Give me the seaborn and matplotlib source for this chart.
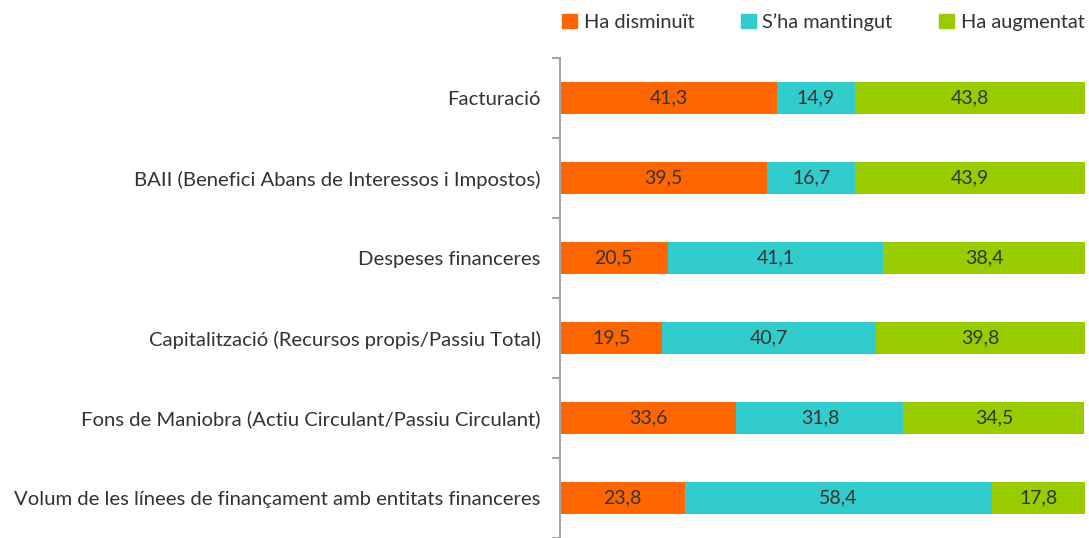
import matplotlib.pyplot as plt
import matplotlib.patches as mpatches
import pandas as pd
import seaborn as sns

categories = [
    "Facturació",
    "BAII (Benefici Abans de Interessos i Impostos)",
    "Despeses financeres",
    "Capitalització (Recursos propis/Passiu Total)",
    "Fons de Maniobra (Actiu Circulant/Passiu Circulant)",
    "Volum de les línees de finançament amb entitats financeres",
]
series_names = ["Ha disminuït", "S\u2019ha mantingut", "Ha augmentat"]
disminuit = [41.3, 39.5, 20.5, 19.5, 33.6, 23.8]
mantingut = [14.9, 16.7, 41.1, 40.7, 31.8, 58.4]
augmentat = [43.8, 43.9, 38.4, 39.8, 34.5, 17.8]
colors = ["#FF6600", "#33CCCC", "#99CC00"]

sns.set_style("white")
plt.rcParams["font.family"] = ["Lato", "DejaVu Sans"]
text_color = "#333333"

df = pd.DataFrame({"cat": categories, "d": disminuit, "m": mantingut, "a": augmentat})
df["c1"] = df["d"]
df["c2"] = df["d"] + df["m"]
df["c3"] = df["c2"] + df["a"]

fig = plt.figure(figsize=(10.89, 5.38), dpi=100)
ax = fig.add_axes([560 / 1089, 0, (1085 - 560) / 1089, 480 / 538])

# draw cumulative totals back to front so the layers stack
for col, color in zip(["c3", "c2", "c1"], colors[::-1]):
    sns.barplot(data=df, x=col, y="cat", orient="h", color=color, width=0.4,
                saturation=1, ax=ax, linewidth=0)

starts = [[0] * len(df), list(df["c1"]), list(df["c2"])]
for vals, left in zip([disminuit, mantingut, augmentat], starts):
    for i, (v, l) in enumerate(zip(vals, left)):
        ax.text(l + v / 2, i, f"{v:.1f}".replace(".", ","), ha="center", va="center",
                fontsize=14, color=text_color)

ax.set_xlim(0, 100)
ax.set_ylim(len(categories) - 0.5, -0.5)
ax.set_xlabel("")
ax.set_ylabel("")
ax.set_xticks([])
ax.set_yticks([i - 0.5 for i in range(len(categories) + 1)], minor=False)
ax.set_yticklabels([])
ax.set_yticks(range(len(categories)), minor=True)
ax.set_yticklabels(categories, minor=True, fontsize=14.6, color=text_color)
ax.tick_params(axis="y", which="minor", length=0, pad=14)
ax.tick_params(axis="y", which="major", length=6, width=1.5, color="#A6A6A6", direction="out", left=True)
for side in ["top", "right", "bottom"]:
    ax.spines[side].set_visible(False)
ax.spines["left"].set_color("#A6A6A6")
ax.spines["left"].set_linewidth(1.5)

handles = [mpatches.Patch(color=c, label=n) for c, n in zip(colors, series_names)]
fig.legend(handles=handles, loc="center left", bbox_to_anchor=(562 / 1089, 1 - 22 / 538),
           ncol=3, frameon=False, fontsize=14.4, handlelength=0.75, handleheight=0.75,
           handletextpad=0.35, columnspacing=2.3, labelcolor=text_color,
           borderpad=0, borderaxespad=0)

fig.savefig("out.png", dpi=100)
